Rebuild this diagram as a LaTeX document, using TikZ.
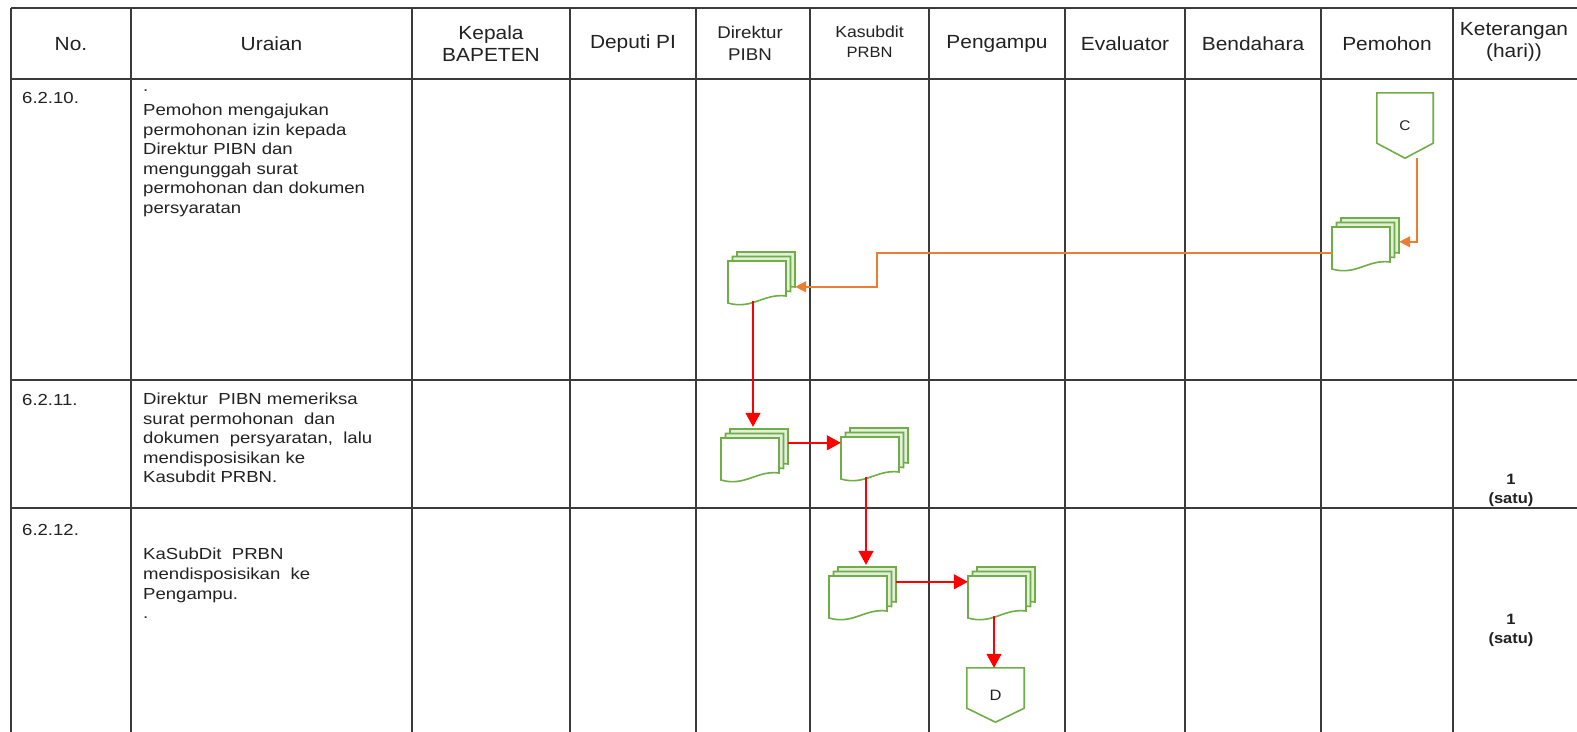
\documentclass[tikz,border=0pt]{standalone}
\usepackage{fontspec}
\setmainfont{Liberation Sans}[FakeStretch=1.1]
\newfontfamily\bodyfont{Liberation Sans}[FakeStretch=1.16]
\usetikzlibrary{calc,arrows.meta}
\definecolor{docgreen}{HTML}{70AD47}
\definecolor{docfill}{HTML}{E2EFDA}
\definecolor{arrowred}{HTML}{FF0000}
\definecolor{arroworange}{HTML}{ED7D31}
\definecolor{gridline}{HTML}{3A3A3A}
\definecolor{textgray}{HTML}{222222}
\newcommand\mdoc[3]{%
  \begin{scope}[shift={(#2,#3)}]
    \foreach \o/\s in {9/docback,4.5/docback,0/docfront}
      \draw[\s,shift={(\o,-\o)}] (0,0) -- (58,0) -- (58,35) .. controls (36,32) and (24,49) .. (0,42) -- cycle;
    \node[docnode] (#1) at (29,21.5) {};
  \end{scope}}
\begin{document}
\begin{tikzpicture}[x=1pt,y=-1pt,
  grid/.style={draw=gridline, line width=1.3pt},
  hgrid/.style={draw=gridline, line width=1.8pt},
  hdr/.style={align=center, inner sep=0, text=textgray, font=\fontsize{19}{22}\selectfont},
  body/.style={anchor=north west, inner sep=0, align=left, text=textgray, font=\bodyfont\fontsize{16}{19.6}\selectfont},
  num/.style={anchor=base west, inner sep=0, text=textgray, font=\bodyfont\fontsize{16}{19.6}\selectfont},
  ket/.style={align=center, inner sep=0, text=textgray, font=\fontsize{15}{19}\selectfont\bfseries},
  docback/.style={draw=docgreen, fill=docfill, line width=1.6pt},
  docfront/.style={draw=docgreen, fill=white, line width=1.6pt},
  docnode/.style={inner sep=0, minimum width=58pt, minimum height=43pt, draw=none},
  connnode/.style={inner sep=0, draw=none, text=textgray, font=\fontsize{14}{16}\selectfont},
  connline/.style={draw=docgreen, line width=1.6pt, line join=miter},
  redarrow/.style={draw=arrowred, line width=1.4pt, -{Triangle[length=14pt,width=15pt]}},
  orgarrow/.style={draw=arroworange, line width=1.4pt, -{Triangle[length=11pt,width=11pt]}}]
\useasboundingbox (0,0) rectangle (1577,731);
\fill[white] (0,0) rectangle (1577,731);
% table
\draw[hgrid] (11,8) -- (1590,8);
\draw[hgrid] (11,79) -- (1590,79);
\draw[hgrid] (11,380) -- (1590,380);
\draw[hgrid] (11,508) -- (1590,508);
\foreach \x in {11,131,412,570,696,810,929,1065,1185,1321,1453}
  \draw[grid] (\x,8) -- (\x,740);
% header
\node[hdr] (hNo) at (71,44) {No.};
\node[hdr] (hUr) at (271.5,44) {Uraian};
\node[hdr] (hKep) at (491,44) {Kepala\\BAPETEN};
\node[hdr] (hDep) at (633,44) {Deputi PI};
\node[hdr, font=\fontsize{17}{22}\selectfont] (hDir) at (750,43) {Direktur\\PIBN};
\node[hdr, font=\fontsize{16}{20}\selectfont] (hKas) at (869.5,42) {Kasubdit\\{\fontsize{15}{18}\selectfont PRBN}};
\node[hdr] (hPeng) at (997,44) {Pengampu};
\node[hdr] (hEva) at (1125,44) {Evaluator};
\node[hdr] (hBen) at (1253,44) {Bendahara};
\node[hdr] (hPem) at (1387,44) {Pemohon};
\node[hdr] (hKet) at (1514,42) {Keterangan\\(hari))};
% numbers
\node[num] (n1) at (22,103) {6.2.10.};
\node[num] (n2) at (22,405) {6.2.11.};
\node[num] (n3) at (22,535) {6.2.12.};
% descriptions
\node[body] (u1) at (143,78) {\strut.\\[4pt]Pemohon mengajukan\\permohonan izin kepada\\Direktur PIBN dan\\mengunggah surat\\permohonan dan dokumen\\persyaratan};
\node[body] (u2) at (143,390.5) {\strut Direktur\ \ PIBN memeriksa\\surat permohonan\ \ dan\\dokumen\ \ persyaratan,\ \ lalu\\mendisposisikan ke\\Kasubdit PRBN.};
\node[body] (u3) at (143,546) {\strut KaSubDit\ \ PRBN\\mendisposisikan\ \ ke\\Pengampu.\\.};
% keterangan
\node[ket] (k2) at (1511,490) {1\\(satu)};
\node[ket] (k3) at (1511,630) {1\\(satu)};
% connectors
\node[connnode, minimum width=56pt, minimum height=65pt] (C) at (1405,125.5) {C};
\draw[connline] (C.north west) -- (C.north east) -- ($(C.south east)+(0,-15)$) -- (C.south) -- ($(C.south west)+(0,-15)$) -- cycle;
\node[connnode, minimum width=57pt, minimum height=54pt, font=\fontsize{15}{17}\selectfont] (D) at (995.5,695) {D};
\draw[connline] (D.north west) -- (D.north east) -- ($(D.south east)+(0,-14)$) -- (D.south) -- ($(D.south west)+(0,-14)$) -- cycle;
% documents
\mdoc{dP}{1332}{227}
\mdoc{dD1}{728}{261}
\mdoc{dD2}{721}{438}
\mdoc{dK2}{841}{437}
\mdoc{dK3}{829}{576}
\mdoc{dG3}{968}{576}
% flows
\draw[orgarrow] ($(C.south)+(12,0)$) |- ($(dP.north east)+(9,15)$);
\coordinate (bendA) at (877,270);
\draw[orgarrow] ($(dP.north west)+(0,26)$) -| (bendA) |- ($(dD1.north east)+(9,26)$);
\draw[redarrow] ($(dD1.south)+(-4,-3)$) -- ($(dD2.north)+(3,-11)$);
\draw[redarrow] ($(dD2.north east)+(9,5)$) -- ($(dK2.north west)+(0,6)$);
\draw[redarrow] ($(dK2.south)+(-4,-3)$) -- ($(dK3.north)+(8,-11)$);
\draw[redarrow] ($(dK3.north east)+(9,6)$) -- ($(dG3.north west)+(0,6)$);
\draw[redarrow] ($(dG3.south)+(-3,-3)$) -- ($(D.north)+(-1.5,0)$);
\end{tikzpicture}
\end{document}
